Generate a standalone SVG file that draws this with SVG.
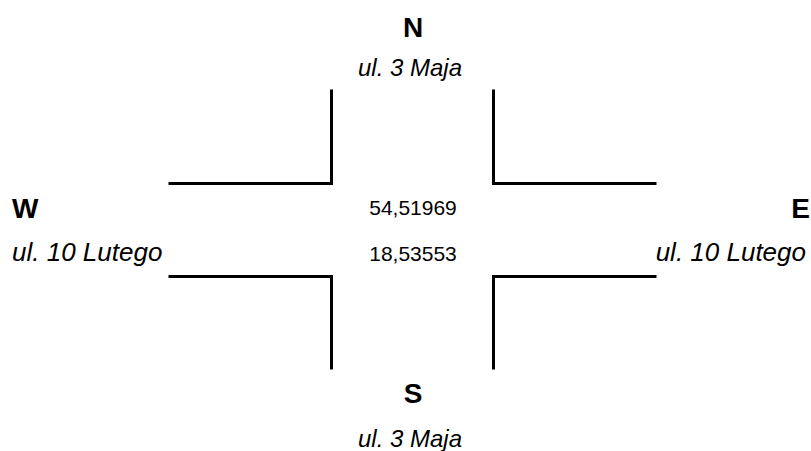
<svg xmlns="http://www.w3.org/2000/svg" width="811" height="451" viewBox="0 0 811 451">
<style>
.bg{fill:#ffffff}
.road{fill:none;stroke:#000000;stroke-width:3;stroke-linecap:square}
.dir{font-family:"Liberation Sans",Arial,sans-serif;font-weight:bold;font-size:28px;fill:#000000}
.street{font-family:"Liberation Sans",Arial,sans-serif;font-style:italic;font-size:24px;fill:#000000}
.street-wide{font-size:26px}
.coord{font-family:"Liberation Sans",Arial,sans-serif;font-size:21px;fill:#000000}
</style>
<rect class="bg" x="0" y="0" width="811" height="451"/>
<g id="connectors">
<polyline class="road" points="331.5,91 331.5,183.5 170,183.5"/>
<polyline class="road" points="493.5,91 493.5,183.5 655,183.5"/>
<polyline class="road" points="170,276.5 331.5,276.5 331.5,368"/>
<polyline class="road" points="655,276.5 493.5,276.5 493.5,368"/>
</g>
<g id="north">
<text class="dir" x="413" y="37" text-anchor="middle">N</text>
<text class="street" x="410" y="76" text-anchor="middle">ul. 3 Maja</text>
</g>
<g id="south">
<text class="dir" x="413" y="403" text-anchor="middle">S</text>
<text class="street" x="410" y="447" text-anchor="middle">ul. 3 Maja</text>
</g>
<g id="west">
<text class="dir" x="12" y="218">W</text>
<text class="street street-wide" x="12" y="261">ul. 10 Lutego</text>
</g>
<g id="east">
<text class="dir" x="810" y="218" text-anchor="end">E</text>
<text class="street street-wide" x="806" y="261" text-anchor="end">ul. 10 Lutego</text>
</g>
<g id="center">
<text class="coord" x="413" y="214.5" text-anchor="middle">54,51969</text>
<text class="coord" x="413" y="261" text-anchor="middle">18,53553</text>
</g>
</svg>
